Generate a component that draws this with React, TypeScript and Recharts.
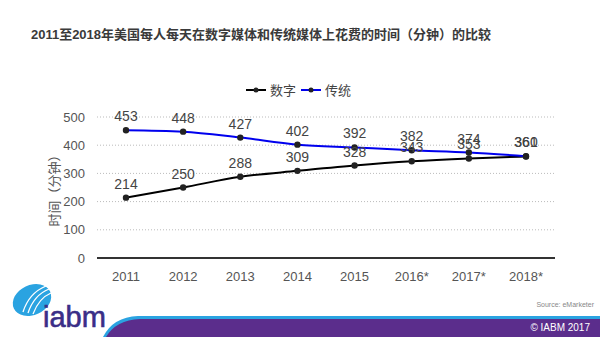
import React from "react";
import {
  LineChart,
  Line,
  XAxis,
  YAxis,
  CartesianGrid,
  LabelList,
} from "recharts";

const years = ["2011", "2012", "2013", "2014", "2015", "2016*", "2017*", "2018*"];
const digital = [214, 250, 288, 309, 328, 343, 353, 360];
const traditional = [453, 448, 427, 402, 392, 382, 374, 361];
const yTicks = [0, 100, 200, 300, 400, 500];

const data = years.map((year, i) => ({
  year,
  digital: digital[i],
  traditional: traditional[i],
}));

const FONT = "'Liberation Sans', Arial, sans-serif";
const CJK = "'Liberation Sans', 'Noto Sans CJK SC', sans-serif";

function LegendBox() {
  const item = (color: string, label: string) => (
    <span style={{ display: "inline-flex", alignItems: "center", marginRight: 4 }}>
      <svg width={22} height={10}>
        <line x1={1} y1={5} x2={21} y2={5} stroke={color} strokeWidth={2} />
        <circle cx={11} cy={5} r={2.5} fill="#222" />
      </svg>
      <span style={{ marginLeft: 3, color: "#444" }}>{label}</span>
    </span>
  );
  return (
    <div
      style={{
        position: "absolute",
        top: 80,
        left: 0,
        width: 600,
        fontFamily: CJK,
        fontSize: 13,
        display: "flex",
        justifyContent: "center",
      }}
    >
      {item("#000", "数字")}
      {item("#0000ee", "传统")}
    </div>
  );
}

function Footer() {
  return (
    <svg width={600} height={60} style={{ position: "absolute", left: 0, top: 277 }}>
      <path d="M103 60 Q113 40 138 39 L600 39 L600 60 Z" fill="#2aa3e1" />
      <path d="M106 60 Q116 43 140 42 L600 42 L600 60 Z" fill="#5b2d8c" />
      <ellipse cx={32} cy={23} rx={20} ry={15} fill="#2aa3e1" transform="rotate(-25 32 23)" />
      <path d="M23 35 Q29 16 46 9" stroke="#fff" strokeWidth={1.3} fill="none" />
      <path d="M28 36 Q34 18 49 12" stroke="#fff" strokeWidth={1.3} fill="none" />
      <path d="M33 37 Q39 21 51 16" stroke="#fff" strokeWidth={1.3} fill="none" />
      <text
        x={43}
        y={50}
        fontFamily={FONT}
        fontSize={29}
        fill="#3a2e87"
        stroke="#3a2e87"
        strokeWidth={0.6}
      >
        iabm
      </text>
      <text x={594} y={30} textAnchor="end" fontFamily={FONT} fontSize={7} fill="#888">
        Source: eMarketer
      </text>
      <text x={590} y={54} textAnchor="end" fontFamily={FONT} fontSize={10} fill="#fff">
        © IABM 2017
      </text>
    </svg>
  );
}

export default function App() {
  return (
    <div
      style={{
        position: "absolute",
        left: 0,
        top: 0,
        width: 600,
        height: 337,
        background: "#fff",
        overflow: "hidden",
      }}
    >
      <div
        style={{
          position: "absolute",
          top: 24,
          left: 0,
          width: 522,
          textAlign: "center",
          fontFamily: CJK,
          fontWeight: "bold",
          fontSize: 13,
          color: "#3a3a3a",
        }}
      >
        2011至2018年美国每人每天在数字媒体和传统媒体上花费的时间（分钟）的比较
      </div>

      <LegendBox />

      <div style={{ position: "absolute", left: 0, top: 0 }}>
        <LineChart
          width={600}
          height={337}
          data={data}
          margin={{ top: 117, right: 45, bottom: 49, left: 37 }}
        >
          <CartesianGrid vertical={false} stroke="#bbb" strokeDasharray="1 2" />
          <XAxis
            dataKey="year"
            height={30}
            padding={{ left: 29, right: 29 }}
            axisLine={{ stroke: "#333", strokeWidth: 2 }}
            tickLine={false}
            tick={{ fill: "#555", fontSize: 13, fontFamily: FONT }}
            tickMargin={8}
          />
          <YAxis
            width={60}
            domain={[0, 500]}
            ticks={yTicks}
            axisLine={false}
            tickLine={false}
            tick={{ fill: "#555", fontSize: 13, fontFamily: FONT }}
            tickMargin={6}
            label={{
              value: "时间（分钟）",
              angle: -90,
              position: "insideLeft",
              offset: 17,
              style: { fill: "#555", fontSize: 13, fontFamily: CJK, textAnchor: "middle" },
            }}
          />
          <Line
            type="monotone"
            dataKey="digital"
            name="数字"
            stroke="#000"
            strokeWidth={2}
            dot={{ r: 2.2, fill: "#222", stroke: "#222" }}
            isAnimationActive={false}
          >
            <LabelList
              dataKey="digital"
              position="top"
              offset={9}
              style={{ fill: "#444", fontSize: 14, fontFamily: FONT }}
            />
          </Line>
          <Line
            type="monotone"
            dataKey="traditional"
            name="传统"
            stroke="#0000ee"
            strokeWidth={2}
            dot={{ r: 2.2, fill: "#222", stroke: "#222" }}
            isAnimationActive={false}
          >
            <LabelList
              dataKey="traditional"
              position="top"
              offset={9}
              style={{ fill: "#444", fontSize: 14, fontFamily: FONT }}
            />
          </Line>
        </LineChart>
      </div>

      <Footer />
    </div>
  );
}
